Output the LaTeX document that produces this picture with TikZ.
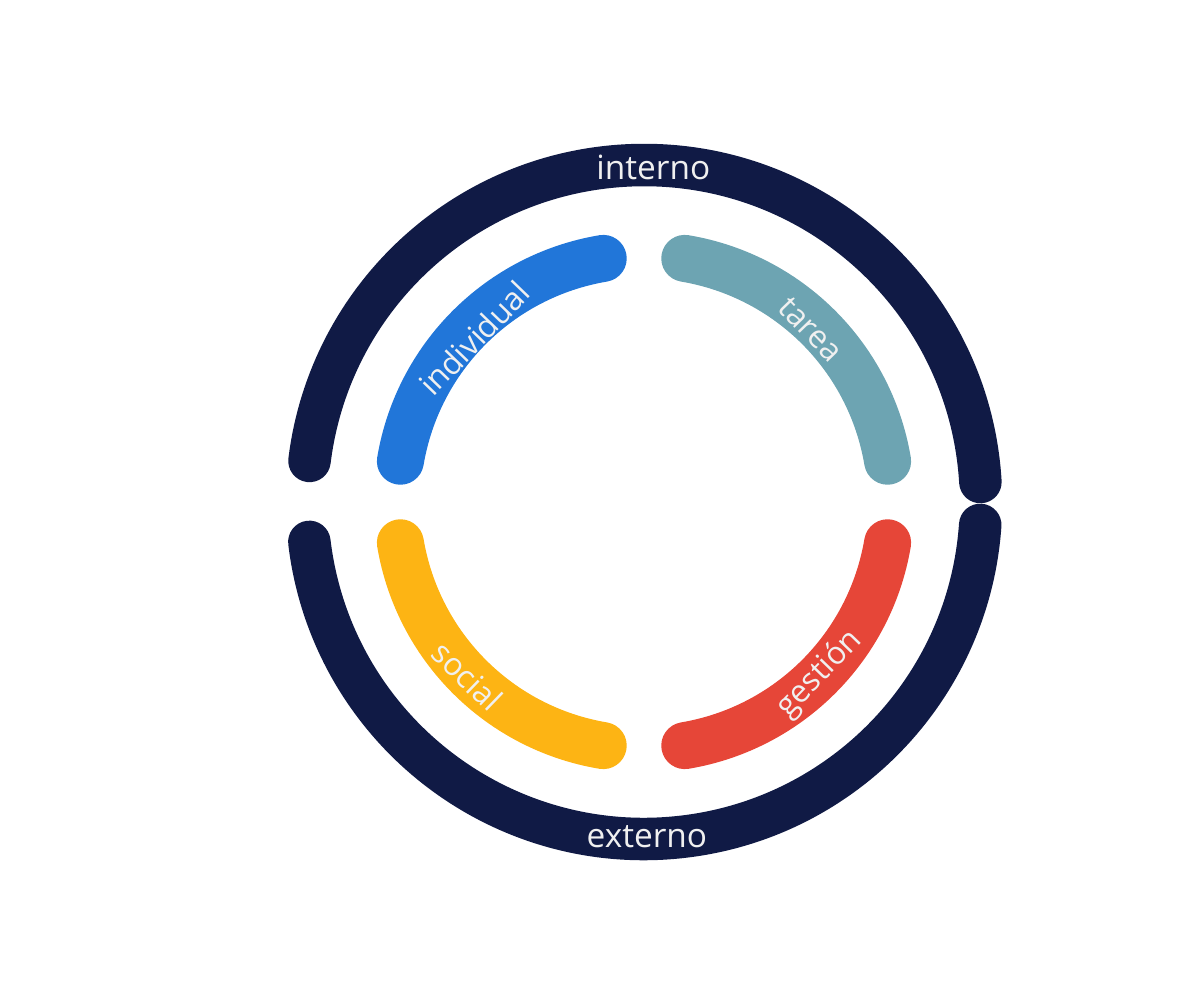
\documentclass[tikz,border=0pt]{standalone}
\usepackage{fontspec}
\setmainfont{Open Sans}

\definecolor{navy}{RGB}{16,26,69}
\definecolor{inblue}{RGB}{33,118,217}
\definecolor{inteal}{RGB}{109,164,178}
\definecolor{ingold}{RGB}{253,180,20}
\definecolor{inred}{RGB}{230,70,56}

\begin{document}
\begin{tikzpicture}[
  ring/.style={draw=navy,line width=0.85cm,line cap=round},
  seg/.style={line width=0.94cm,line cap=round},
  lab/.style={font=\fontsize{19}{19}\selectfont,text=white!94!black,inner sep=0pt},
  sublab/.style={lab,font=\fontsize{18}{18}\selectfont}]
  \useasboundingbox (-12.88,10.04) rectangle (10.94,-9.56);
  % outer ring in two halves, inner ring in four segments
  \draw[ring] (3.4:6.74) arc[start angle=3.4,end angle=173,radius=6.74];
  \draw[ring] (186.8:6.74) arc[start angle=186.8,end angle=356.1,radius=6.74];
  \foreach \s/\c in {9.5/inteal,99.5/inblue,189.5/ingold,279.5/inred}
    \draw[seg,draw=\c] (\s:4.94) arc[start angle=\s,delta angle=71,radius=4.94];
  \node[lab] (int) at (88.4:6.70) {interno};
  \node[lab] (ext) at (270.5:6.70) {externo};
  \node[sublab,rotate=46] (ind) at (136:4.72) {individual};
  \node[sublab,rotate=-46] (tar) at (46:4.80) {tarea};
  \node[sublab,rotate=-44] (soc) at (224.6:4.96) {social};
  \node[sublab,rotate=46] (ges) at (315.6:4.92) {gestión};
\end{tikzpicture}
\end{document}
